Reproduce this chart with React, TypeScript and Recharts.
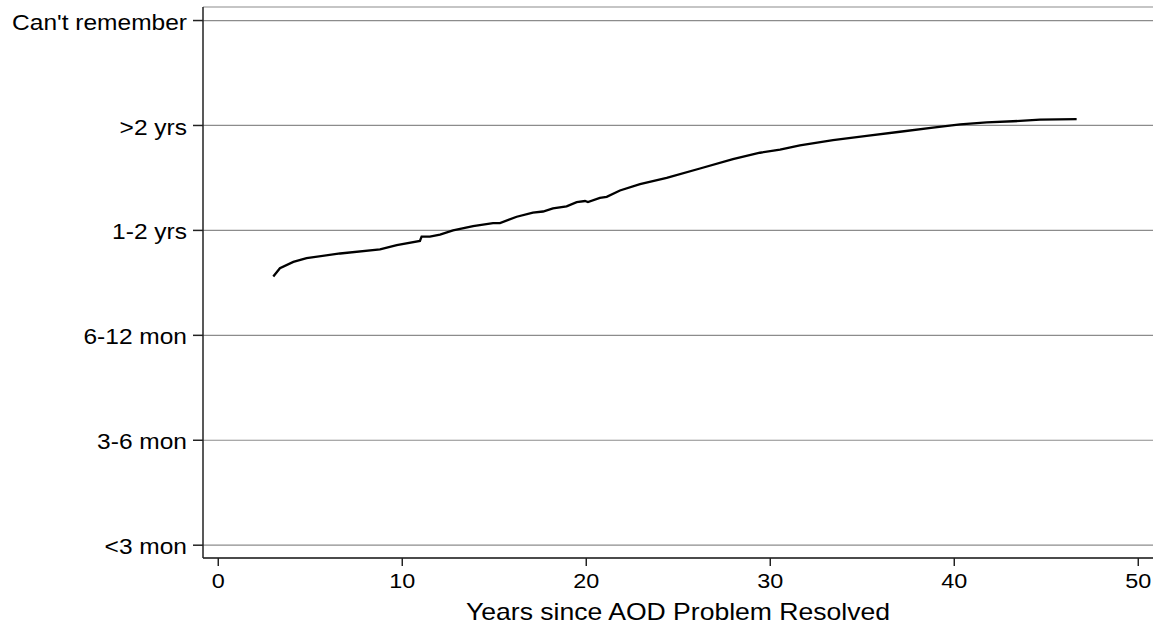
import { LineChart, Line, XAxis, YAxis, CartesianGrid } from "recharts"

// y categories, bottom to top
const durationLabels = ["<3 mon", "3-6 mon", "6-12 mon", "1-2 yrs", ">2 yrs", "Can't remember"]
const durationTicks = [0, 1, 2, 3, 4, 5]
const yearTicks = [0, 10, 20, 30, 40, 50]

// years since AOD problem resolved
const years = [
  2.99, 3.35, 4.08, 4.8, 6.62, 8.79, 9.7, 10.96, 11.05, 11.5, 12.05, 12.76, 13.85, 14.93,
  15.31, 16.22, 17.1, 17.65, 18.19, 18.93, 19.48, 19.93, 20.09, 20.74, 21.11, 21.83, 22.92,
  24.37, 26.18, 27.97, 29.44, 30.53, 31.61, 33.41, 35.24, 37.05, 38.84, 40.32, 41.76, 43.19,
  44.66, 46.65
]
// smoothed duration score
const duration = [
  2.56, 2.64, 2.7, 2.735, 2.78, 2.82, 2.86, 2.9, 2.94, 2.94, 2.96, 3.0, 3.04, 3.07,
  3.07, 3.13, 3.17, 3.18, 3.21, 3.23, 3.27, 3.28, 3.27, 3.31, 3.32, 3.38, 3.44,
  3.5, 3.59, 3.68, 3.74, 3.77, 3.81, 3.86, 3.9, 3.94, 3.98, 4.01, 4.03, 4.04,
  4.055, 4.06
]

const data = years.map((y, i) => ({ year: y, score: duration[i] }))

const FONT = "'Liberation Sans', Arial, Helvetica, sans-serif"

function YTick({ x, y, payload }: any) {
  return (
    <text
      transform={`translate(${x},${y}) scale(1.14,1)`}
      textAnchor="end"
      dy="0.42em"
      fontSize={21.5}
      fontFamily={FONT}
      fill="#000"
    >
      {durationLabels[payload.value]}
    </text>
  )
}

function XTick({ x, y, payload }: any) {
  return (
    <text
      transform={`translate(${x},${y}) scale(1.2,1)`}
      textAnchor="middle"
      dy="0.71em"
      fontSize={19.5}
      fontFamily={FONT}
      fill="#000"
    >
      {payload.value}
    </text>
  )
}

function XTitle({ viewBox }: any) {
  const cx = viewBox.x + viewBox.width / 2
  return (
    <text
      transform={`translate(${cx},620) scale(1.107,1)`}
      textAnchor="middle"
      fontSize={24}
      fontFamily={FONT}
      fill="#000"
    >
      Years since AOD Problem Resolved
    </text>
  )
}

export default function App() {
  return (
    <div style={{ position: "absolute", left: 0, top: 0, width: 1162, height: 631, background: "#fff" }}>
      <LineChart width={1162} height={631} data={data} margin={{ top: 7, right: 9, bottom: 0, left: 0 }}>
        <CartesianGrid vertical={false} stroke="#8c8c8c" strokeWidth={1.2} />
        <XAxis
          dataKey="year"
          type="number"
          domain={[-0.83, 50.8]}
          ticks={yearTicks}
          allowDataOverflow
          height={73}
          tickSize={8}
          tickMargin={8.5}
          tick={<XTick />}
          axisLine={{ stroke: "#222", strokeWidth: 1.5 }}
          tickLine={{ stroke: "#222", strokeWidth: 1.5 }}
          label={<XTitle />}
        />
        <YAxis
          type="number"
          domain={[-0.122, 5.129]}
          ticks={durationTicks}
          allowDataOverflow
          width={203}
          tickSize={10}
          tickMargin={6}
          tick={<YTick />}
          axisLine={{ stroke: "#222", strokeWidth: 1.5 }}
          tickLine={{ stroke: "#222", strokeWidth: 1.5 }}
        />
        <Line
          type="linear"
          dataKey="score"
          stroke="#000"
          strokeWidth={2.3}
          dot={false}
          isAnimationActive={false}
        />
      </LineChart>
    </div>
  )
}
